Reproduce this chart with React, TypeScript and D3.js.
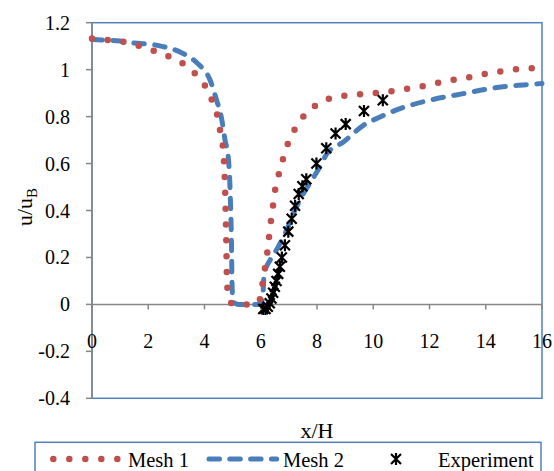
import React from 'react';
import * as d3 from 'd3';

const mesh1: [number, number][] = [
  [0, 1.133], [0.58, 1.126], [1.17, 1.118], [1.71, 1.1], [2.26, 1.078], [2.84, 1.05],
  [3.32, 1.019], [3.75, 0.972], [4.08, 0.919], [4.31, 0.855], [4.49, 0.787], [4.58, 0.72],
  [4.67, 0.65], [4.73, 0.5], [4.77, 0.3], [4.8, 0.1], [4.86, 0.025], [5.0, 0.003],
  [5.32, 0], [5.8, 0], [6.0, 0.03], [6.09, 0.117], [6.2, 0.19], [6.27, 0.26], [6.33, 0.327],
  [6.41, 0.394], [6.48, 0.465], [6.59, 0.529], [6.74, 0.597], [6.9, 0.664], [7.13, 0.728],
  [7.43, 0.787], [7.84, 0.837], [8.34, 0.872], [8.9, 0.887], [9.47, 0.895], [10.06, 0.9],
  [10.62, 0.908], [11.2, 0.919], [11.78, 0.93], [12.35, 0.945], [12.92, 0.958], [13.48, 0.969],
  [14.04, 0.983], [14.63, 0.994], [15.2, 1.003], [15.77, 1.007], [16, 1.01],
];

const mesh2: [number, number][] = [
  [0, 1.128], [1, 1.122], [1.46, 1.114], [2.3, 1.104], [3.13, 1.075], [3.72, 1.03],
  [4.2, 0.955], [4.43, 0.87], [4.61, 0.79], [4.73, 0.7], [4.85, 0.62], [4.92, 0.45],
  [4.96, 0.25], [4.98, 0.08], [5.02, 0.01], [5.2, 0], [6.0, 0], [6.08, 0.05], [6.12, 0.13],
  [6.2, 0.16], [6.33, 0.188], [6.62, 0.245], [6.92, 0.316], [7.16, 0.387], [7.45, 0.458],
  [7.81, 0.529], [8.1, 0.585], [8.34, 0.64], [8.94, 0.692], [9.65, 0.763], [10.24, 0.798],
  [10.95, 0.834], [12.02, 0.87], [13.2, 0.898], [14.39, 0.924], [15.34, 0.935], [16, 0.941],
];

const experiment: [number, number][] = [
  [6.09, -0.02], [6.17, -0.02], [6.25, -0.01], [6.32, 0.005], [6.38, 0.025], [6.44, 0.05],
  [6.5, 0.075], [6.56, 0.1], [6.62, 0.13], [6.68, 0.16], [6.75, 0.2], [6.86, 0.252],
  [6.98, 0.31], [7.1, 0.365], [7.22, 0.42], [7.35, 0.47], [7.48, 0.503], [7.62, 0.533],
  [7.98, 0.6], [8.33, 0.665], [8.66, 0.728], [9.02, 0.768], [9.67, 0.824], [10.34, 0.87],
];

const xTicks = [0, 2, 4, 6, 8, 10, 12, 14, 16];
const yTicks = [1.2, 1, 0.8, 0.6, 0.4, 0.2, 0, -0.2, -0.4];
const legendLabels = ['Mesh 1', 'Mesh 2', 'Experiment'];

const FONT = "'Liberation Serif', 'Times New Roman', 'DejaVu Serif', serif";
const RED = '#c0504d';
const BLUE = '#4a7ebb';
const AXIS = '#868686';
const FRAME = '#4f81bd';

const left = 92, right = 542, top = 22.7, bottom = 398.3;

export default function App() {
  const x = d3.scaleLinear().domain([0, 16]).range([left, right]);
  const y = d3.scaleLinear().domain([-0.4, 1.2]).range([bottom, top]);
  const line = d3.line<[number, number]>()
    .x(d => x(d[0]))
    .y(d => y(d[1]))
    .curve(d3.curveMonotoneX);
  const star = 'M-5,-5L5,5M-5,5L5,-5M0,-6L0,6';
  const y0 = y(0);

  return (
    <svg width={554} height={471} style={{ position: 'absolute', left: 0, top: 0, fontFamily: FONT }}>
      <rect x={0} y={0} width={554} height={471} fill="#fff" />
      <rect x={left} y={top} width={right - left} height={bottom - top} fill="none"
        stroke={FRAME} strokeWidth={1.5} />
      {/* y axis */}
      <line x1={left} x2={left} y1={top} y2={bottom} stroke={AXIS} strokeWidth={1.5} />
      {yTicks.map(t => (
        <g key={'y' + t}>
          <line x1={left - 6} x2={left} y1={y(t)} y2={y(t)} stroke={AXIS} strokeWidth={1.5} />
          <text x={70} y={y(t) + 7} textAnchor="end" fontSize={20} style={{ fontFamily: FONT }}>{String(t)}</text>
        </g>
      ))}
      {/* x axis at y=0 */}
      <line x1={left} x2={right} y1={y0} y2={y0} stroke={AXIS} strokeWidth={1.5} />
      {xTicks.map(t => (
        <g key={'x' + t}>
          <line x1={x(t)} x2={x(t)} y1={y0} y2={y0 + 5} stroke={AXIS} strokeWidth={1.5} />
          <text x={x(t)} y={348} textAnchor="middle" fontSize={20} style={{ fontFamily: FONT }}>{String(t)}</text>
        </g>
      ))}
      {/* series */}
      <path d={line(mesh2) || ''} fill="none" stroke={BLUE} strokeWidth={5}
        strokeDasharray="10.5 10.5" strokeLinecap="round" />
      <path d={line(mesh1) || ''} fill="none" stroke={RED} strokeWidth={6.5}
        strokeDasharray="0 15.8" strokeLinecap="round" />
      {experiment.map((d, i) => (
        <path key={'e' + i} d={star} transform={`translate(${x(d[0])},${y(d[1])})`}
          stroke="#000" strokeWidth={2.2} fill="none" />
      ))}
      {/* axis titles */}
      <text x={317} y={438} textAnchor="middle" fontSize={22} style={{ fontFamily: FONT }}>x/H</text>
      <text transform="translate(32,207) rotate(-90)" textAnchor="middle" fontSize={22} style={{ fontFamily: FONT }}>
        u/u<tspan fontSize={15} dy={5}>B</tspan>
      </text>
      {/* legend */}
      <rect x={35} y={442.3} width={506} height={40} fill="none" stroke={FRAME} strokeWidth={1.5} />
      <line x1={53.3} x2={120} y1={459} y2={459} stroke={RED} strokeWidth={6.5}
        strokeDasharray="0 16" strokeLinecap="round" />
      <text x={128} y={467} fontSize={20.5} style={{ fontFamily: FONT }}>{legendLabels[0]}</text>
      <line x1={209} x2={276.7} y1={459} y2={459} stroke={BLUE} strokeWidth={5}
        strokeDasharray="10.5 10.3" strokeLinecap="round" />
      <text x={283} y={467} fontSize={20.5} style={{ fontFamily: FONT }}>{legendLabels[1]}</text>
      <path d={star} transform="translate(396,459)" stroke="#000" strokeWidth={2.2} fill="none" />
      <text x={438} y={467} fontSize={20.5} style={{ fontFamily: FONT }}>{legendLabels[2]}</text>
    </svg>
  );
}
